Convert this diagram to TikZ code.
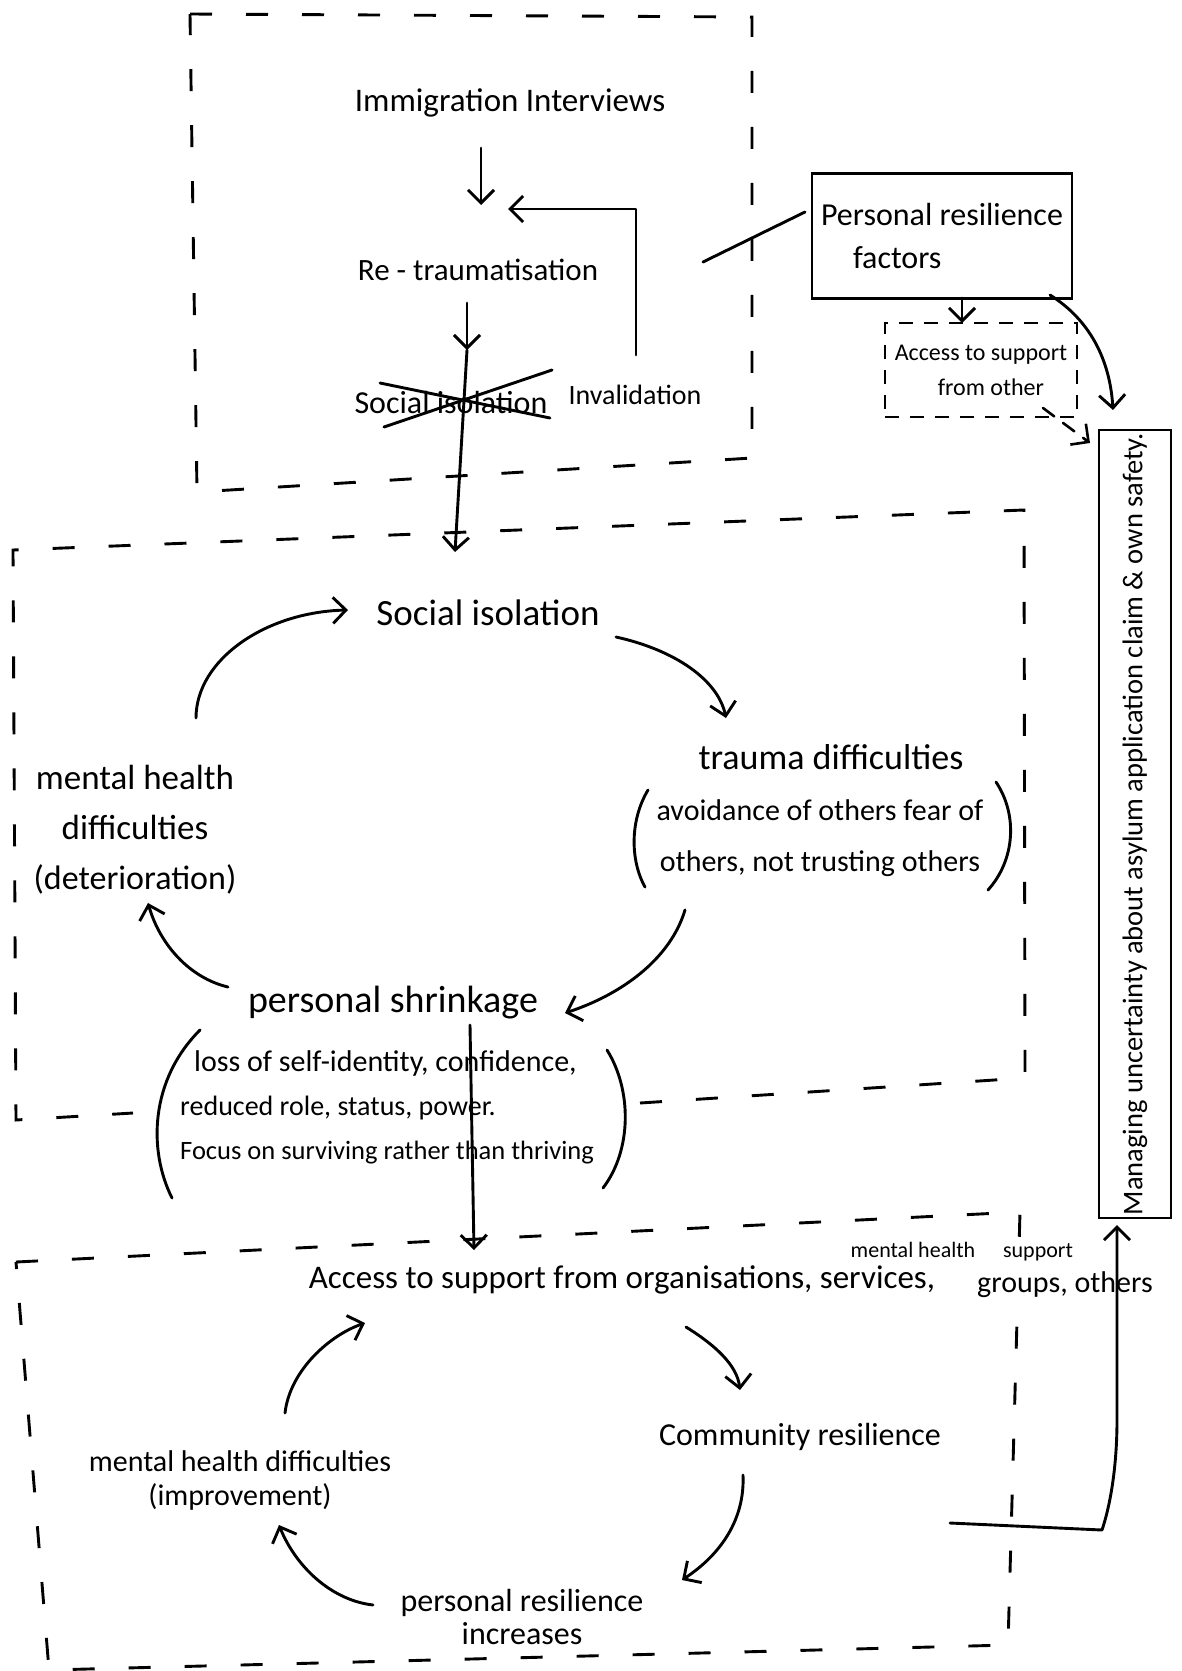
\documentclass[tikz,border=0pt]{standalone}
\usepackage{fontspec}
\setmainfont{Carlito}
\usetikzlibrary{arrows.meta,calc}
\newcommand\fsz[2]{\fontsize{#1pt}{#2pt}\selectfont}
\begin{document}
\begin{tikzpicture}[x=1pt,y=-1pt,
  txt/.style={inner sep=0pt, align=center},
  arr/.style={line width=2.9pt, -{Straight Barb[length=13pt,width=26pt]}, line cap=round, line join=round},
  dsh/.style={line width=2.9pt, dash pattern=on 22pt off 34pt},
  sdsh/.style={line width=2.6pt, dash pattern=on 14pt off 11pt},
  ln/.style={line width=2.9pt, line cap=round, line join=round}]
\fill[white] (0,0) rectangle (1182,1671);
\useasboundingbox (0,0) rectangle (1182,1671);

% ---------- dashed group boxes ----------
\draw[dsh] (190,14) -- (752,17) -- (752,458) -- (197,492) -- cycle;
\draw[dsh] (640,1103) -- (1025,1078) -- (1024,510) -- (13,550) -- (16,1120) -- (133,1113);
\draw[dsh] (16,1262) -- (1020,1212) -- (1008,1645) -- (49,1670) -- cycle;

% ---------- top group ----------
\node[txt, font=\fsz{33}{38}] (imm) at (510,103) {Immigration Interviews};
\node[txt, font=\fsz{31}{34}] (retr) at (478,270) {Re - traumatisation};
\node[txt, font=\fsz{32}{34}] (sisox) at (451,403) {Social isolation};
\node[txt, font=\fsz{28}{34}] (inv) at (635,395) {Invalidation};
\draw[ln] ([shift={(-67,24)}]sisox.center) -- ([shift={(101,-33)}]sisox.center);
\draw[ln] ([shift={(-71,-20)}]sisox.center) -- ([shift={(99,15)}]sisox.center);

\draw[arr] ([shift={(-29,45)}]imm.center) -- ([shift={(3,-65)}]retr.center);
\draw[arr] ([shift={(1,-40)}]inv.center) |- ([shift={(30,-61)}]retr.center);
\draw[arr] ([shift={(-11,33)}]retr.center) -- ([shift={(16,-53)}]sisox.center);

% ---------- right column ----------
\node[draw, line width=2.9pt, minimum width=260, minimum height=125, inner sep=0pt,
      align=left, font=\fsz{32}{43}] (prf) at (942,236)
      {Personal resilience\\\hspace*{32pt}factors};
\node[draw, sdsh, minimum width=192, minimum height=94, inner sep=0pt,
      align=center, font=\fsz{24}{35}] (ats) at (981,370)
      {Access to support\\\hspace*{20pt}from other};
\node[draw, line width=2.9pt, rotate=90, minimum width=788, minimum height=72,
      inner sep=0pt, font=\fsz{28.5}{30}] (mng) at (1135,824)
      {Managing uncertainty about asylum application claim \& own safety.};

\coordinate (lfree) at (703,262);
\draw[ln] (lfree) -- ([shift={(-137,-24)}]prf.center);
\draw[arr] ([shift={(20,62)}]prf.center) -- ([shift={(-19,-47)}]ats.center);
\draw[arr] ([shift={(108,59)}]prf.center) .. controls (1090,320) and (1110,360) .. ([shift={(-22,-414)}]mng.center);
\draw[arr, sdsh] ([shift={(62,38)}]ats.center) -- ([shift={(-45,-381)}]mng.center);

% ---------- middle group ----------
\node[txt, font=\fsz{37}{40}] (si) at (488,613) {Social isolation};
\node[txt, font=\fsz{36}{40}] (td) at (831,757) {trauma difficulties};
\node[txt, font=\fsz{30}{51}] (tdd) at (820,838) {avoidance of others fear of\\others, not trusting others};
\draw[ln] (648,790) .. controls (630,820) and (630,860) .. (645,887);
\draw[ln] (996,782) .. controls (1018,815) and (1015,860) .. (988,890);
\node[txt, font=\fsz{35}{50}] (mhd) at (135,830) {mental health\\difficulties\\{\fsz{34}{50}(deterioration)}};
\node[txt, font=\fsz{38}{42}] (ps) at (393,1003) {personal shrinkage};
\node[txt, align=left, anchor=west, font=\fsz{28}{44}] (psd) at (180,1107)
      {\hspace*{14pt}{\fsz{30}{44}loss of self-identity, confidence,}\\reduced role, status, power.\\{\fsz{26.5}{44}Focus on surviving rather than thriving}};
\draw[ln] (200,1030) .. controls (150,1080) and (148,1150) .. (172,1198);
\draw[ln] (607,1050) .. controls (632,1090) and (632,1150) .. (603,1188);

\draw[arr] ([shift={(16,-53)}]sisox.center) -- ([shift={(-33,-61)}]si.center);
\draw[arr] ([shift={(61,-112)}]mhd.center) .. controls (196,660) and (265,612) .. ([shift={(-140,-3)}]si.center);
\draw[arr] ([shift={(128,24)}]si.center) .. controls (675,650) and (718,680) .. ([shift={(-105,-39)}]td.center);
\draw[arr] ([shift={(-135,72)}]tdd.center) .. controls (670,960) and (620,995) .. ([shift={(172,10)}]ps.center);
\draw[arr] ([shift={(-165,-16)}]ps.center) .. controls (190,978) and (160,945) .. ([shift={(13,73)}]mhd.center);

% ---------- bottom group ----------
\node[txt, font=\fsz{33}{38}] (acc) at (622,1280) {Access to support from organisations, services,};
\node[txt, font=\fsz{30}{36}, fill=white, inner sep=3pt] (accg) at (1065,1285) {groups, others};
\node[txt, font=\fsz{22}{26}] (accm) at (913,1250) {mental health};
\node[txt, font=\fsz{22}{26}] (accs) at (1038,1252) {support};
\node[txt, font=\fsz{32}{38}] (com) at (800,1437) {Community resilience};
\node[txt, font=\fsz{32}{33}] (pri) at (522,1617) {personal resilience\\increases};
\node[txt, font=\fsz{30}{34}] (mhi) at (240,1480) {mental health difficulties\\(improvement)};

\draw[arr] ([shift={(77,22)}]ps.center) -- ([shift={(-148,-30)}]acc.center);
\draw[arr] ([shift={(64,47)}]acc.center) .. controls (715,1345) and (737,1365) .. ([shift={(-60,-47)}]com.center);
\draw[arr] ([shift={(-57,38)}]com.center) .. controls (745,1520) and (720,1555) .. ([shift={(160,-37)}]pri.center);
\draw[arr] ([shift={(-149,-12)}]pri.center) .. controls (330,1600) and (295,1565) .. ([shift={(39,45)}]mhi.center);
\draw[arr] ([shift={(45,-67)}]mhi.center) .. controls (290,1370) and (330,1335) .. ([shift={(-257,43)}]acc.center);

\coordinate (bfree) at (950,1523);
\draw[arr] (bfree) -- (1102,1530) .. controls (1112,1500) and (1117,1460) .. (1117,1420) -- ([shift={(-18,401)}]mng.center);
\end{tikzpicture}
\end{document}
